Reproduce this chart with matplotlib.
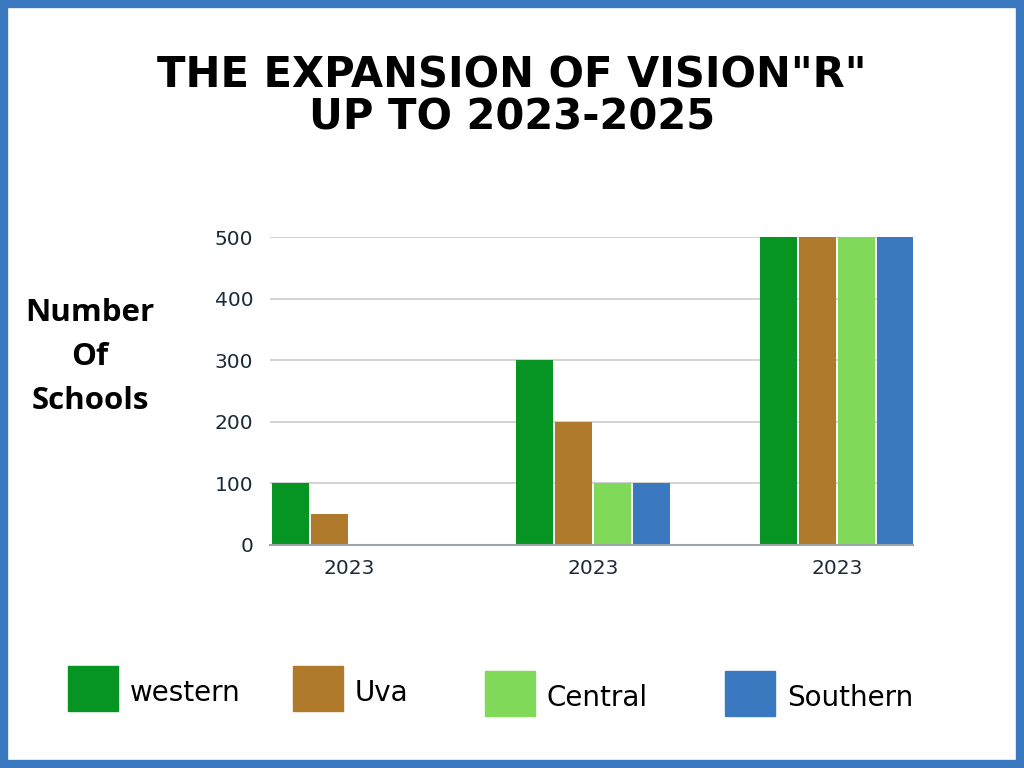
import matplotlib.pyplot as plt
from matplotlib.patches import Rectangle
import numpy as np

# data
groups = ['2023', '2023', '2023']
regions = ['western', 'Uva', 'Central', 'Southern']
western = [100, 300, 500]
uva = [50, 200, 500]
central = [0, 100, 500]
southern = [0, 100, 500]
colors = ['#069423', '#b07a2c', '#80d958', '#3a78c0']
yticks = [0, 100, 200, 300, 400, 500]

fig = plt.figure(figsize=(10.24, 7.68), dpi=100)
fig.patch.set_facecolor('white')

# blue frame round the picture
fig.patches.append(Rectangle((0.0035, 0.005), 0.993, 0.99, transform=fig.transFigure,
                             fill=False, edgecolor='#3a78c0', linewidth=6))

ax = fig.add_axes([0.2637, 0.2904, 0.628, 0.401])
x = np.arange(len(groups))
step = 0.16
w = 0.152
series = [western, uva, central, southern]
for i, vals in enumerate(series):
    ax.bar(x - 1.5 * step + i * step, vals, width=w, color=colors[i], zorder=3)

ax.set_xlim(-0.324, 2.311)
ax.set_ylim(0, 500)
ax.set_yticks(yticks)
ax.set_xticks(x)
ax.set_xticklabels(groups)
ax.grid(axis='y', color='#c8ccd0', linewidth=1.2, zorder=0)
for s in ['top', 'right', 'left']:
    ax.spines[s].set_visible(False)
ax.spines['bottom'].set_color('#9aa4ae')
ax.spines['bottom'].set_linewidth(1.5)
ax.spines['bottom'].set_zorder(4)
ax.tick_params(length=0, labelsize=14.5, colors='#1a2a3a')
ax.tick_params(axis='y', pad=12)
ax.tick_params(axis='x', pad=10)

# title
fig.text(0.5, 0.875, 'THE EXPANSION OF VISION"R"\nUP TO 2023-2025', ha='center', va='center',
         fontsize=30, fontweight='heavy', family='DejaVu Sans', linespacing=1.0)

# y label
fig.text(0.088, 0.535, 'Number\nOf\nSchools', ha='center', va='center', fontsize=22.5,
         fontweight='bold', family='Open Sans', linespacing=1.62)

# legend
box_x = [68, 293, 485, 725]
box_y = [666, 666, 671, 671]
for i, name in enumerate(regions):
    fig.patches.append(Rectangle((box_x[i] / 1024, 1 - (box_y[i] + 45) / 768), 50 / 1024, 45 / 768,
                                 transform=fig.transFigure, color=colors[i]))
    fig.text((box_x[i] + 62) / 1024, 1 - (box_y[i] + 27) / 768, name, ha='left', va='center',
             fontsize=20, family=['Liberation Sans Narrow', 'DejaVu Sans'])

fig.savefig('out.png', dpi=100)
